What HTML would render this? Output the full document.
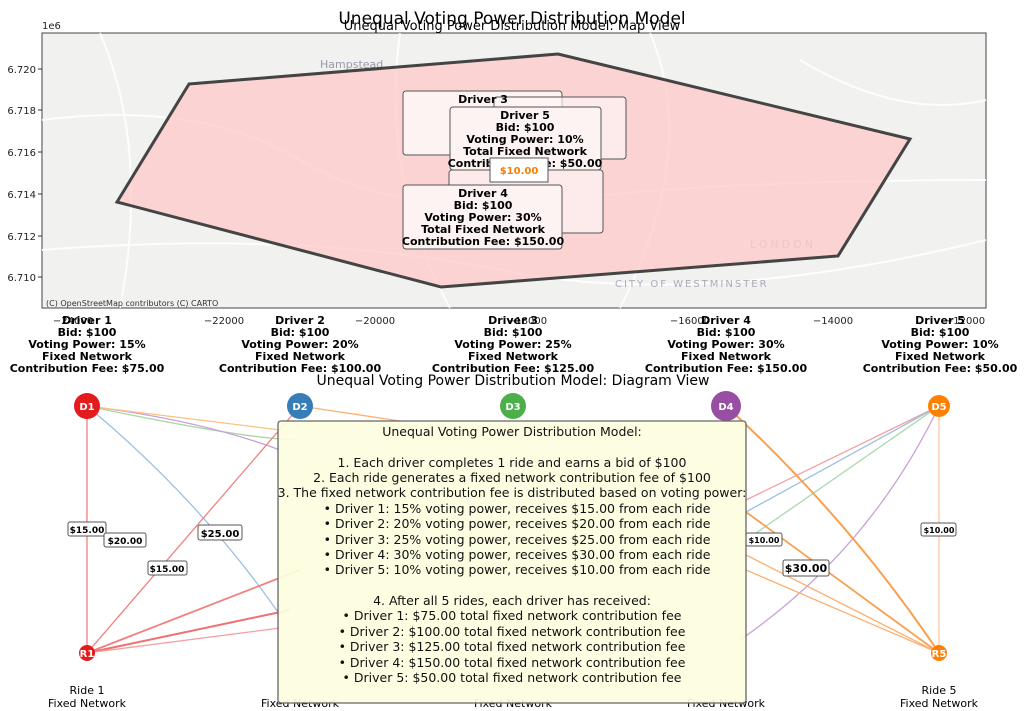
<!DOCTYPE html>
<html><head><meta charset="utf-8"><style>
body{margin:0;background:#fff;}
svg{display:block;font-family:"DejaVu Sans","Liberation Sans",sans-serif;}
.b{font-weight:bold;font-size:11px;text-anchor:middle;fill:#000}
.t{font-size:10.5px;fill:#222}
.n{font-size:11px;text-anchor:middle;fill:#000}
.lb{font-size:9px;font-weight:bold;text-anchor:middle}
</style></head><body>
<svg width="1024" height="711" viewBox="0 0 1024 711">
<rect x="42" y="33" width="944" height="275" fill="#f1f1ef" stroke="#444" stroke-width="1"/>
<g stroke="#fff" stroke-width="2" fill="none" opacity="0.9">
<path d="M42 120 Q200 100 300 160 T560 200 T986 180"/>
<path d="M100 33 Q150 150 120 308"/><path d="M400 33 Q380 180 450 308"/>
<path d="M650 33 Q700 150 620 308"/><path d="M800 60 Q900 120 986 100"/>
<path d="M42 250 Q300 230 500 270 T986 240"/>
</g>
<text x="320" y="68" font-size="11" fill="#99a">Hampstead</text>
<text x="750" y="248" font-size="11" fill="#aab" letter-spacing="3">LONDON</text>
<text x="615" y="287" font-size="10" fill="#aab" letter-spacing="2">CITY OF WESTMINSTER</text>
<polygon points="189,84 558,54 910,139 838,256 441,287 117,202" fill="#ffcccc" fill-opacity="0.8" stroke="#444" stroke-width="3"/>
<text x="46" y="306" font-size="8" fill="#333">(C) OpenStreetMap contributors (C) CARTO</text>
<g font-size="10" fill="#222" text-anchor="end">
<text x="36" y="73">6.720</text><text x="36" y="114">6.718</text><text x="36" y="156">6.716</text><text x="36" y="198">6.714</text><text x="36" y="240">6.712</text><text x="36" y="281">6.710</text>
</g>
<text x="42" y="29" font-size="10" fill="#222">1e6</text>
<g stroke="#333"><line x1="38" y1="69" x2="42" y2="69"/><line x1="38" y1="110" x2="42" y2="110"/><line x1="38" y1="152" x2="42" y2="152"/><line x1="38" y1="194" x2="42" y2="194"/><line x1="38" y1="236" x2="42" y2="236"/><line x1="38" y1="277" x2="42" y2="277"/></g>
<g font-size="10" fill="#222" text-anchor="middle">
<text x="73" y="324">−24000</text><text x="224" y="324">−22000</text><text x="375" y="324">−20000</text><text x="527" y="324">−18000</text><text x="690" y="324">−16000</text><text x="833" y="324">−14000</text><text x="965" y="324">−12000</text>
</g>
<text x="512" y="24" font-size="17" text-anchor="middle" fill="#000">Unequal Voting Power Distribution Model</text>
<text x="512" y="30" font-size="13" text-anchor="middle" fill="#000">Unequal Voting Power Distribution Model: Map View</text>
<g stroke="#555" fill="#fdf3f3">
<rect x="403" y="91" width="159" height="64" rx="3"/>
<rect x="494" y="97" width="132" height="62" rx="3" fill-opacity="0.7"/>
<rect x="449" y="170" width="154" height="63" rx="3" fill-opacity="0.7"/>
<rect x="450" y="107" width="151" height="63" rx="3"/>
<rect x="403" y="185" width="159" height="64" rx="3"/>
</g>
<text class="b" x="483" y="103">Driver 3</text>
<text class="b" x="525" y="119">Driver 5</text>
<text class="b" x="525" y="131">Bid: $100</text>
<text class="b" x="525" y="143">Voting Power: 10%</text>
<text class="b" x="525" y="155">Total Fixed Network</text>
<text class="b" x="525" y="167">Contribution Fee: $50.00</text>
<rect x="490" y="158" width="58" height="24" fill="#fff" stroke="#555"/>
<text x="519" y="174" font-size="10" font-weight="bold" fill="#f57f00" text-anchor="middle">$10.00</text>
<text class="b" x="483" y="197">Driver 4</text>
<text class="b" x="483" y="209">Bid: $100</text>
<text class="b" x="483" y="221">Voting Power: 30%</text>
<text class="b" x="483" y="233">Total Fixed Network</text>
<text class="b" x="483" y="245">Contribution Fee: $150.00</text>
<text class="b" x="87" y="324">Driver 1</text><text class="b" x="87" y="336">Bid: $100</text><text class="b" x="87" y="348">Voting Power: 15%</text><text class="b" x="87" y="360">Fixed Network</text><text class="b" x="87" y="372">Contribution Fee: $75.00</text>
<text class="b" x="300" y="324">Driver 2</text><text class="b" x="300" y="336">Bid: $100</text><text class="b" x="300" y="348">Voting Power: 20%</text><text class="b" x="300" y="360">Fixed Network</text><text class="b" x="300" y="372">Contribution Fee: $100.00</text>
<text class="b" x="513" y="324">Driver 3</text><text class="b" x="513" y="336">Bid: $100</text><text class="b" x="513" y="348">Voting Power: 25%</text><text class="b" x="513" y="360">Fixed Network</text><text class="b" x="513" y="372">Contribution Fee: $125.00</text>
<text class="b" x="726" y="324">Driver 4</text><text class="b" x="726" y="336">Bid: $100</text><text class="b" x="726" y="348">Voting Power: 30%</text><text class="b" x="726" y="360">Fixed Network</text><text class="b" x="726" y="372">Contribution Fee: $150.00</text>
<text class="b" x="940" y="324">Driver 5</text><text class="b" x="940" y="336">Bid: $100</text><text class="b" x="940" y="348">Voting Power: 10%</text><text class="b" x="940" y="360">Fixed Network</text><text class="b" x="940" y="372">Contribution Fee: $50.00</text>
<text x="513" y="385" font-size="14" text-anchor="middle">Unequal Voting Power Distribution Model: Diagram View</text>
<g fill="none" stroke-width="1.3">
<line x1="87" y1="406" x2="87" y2="653" stroke="#f08080"/>
<path d="M87 406 Q200 500 280 615" stroke="#9ec0e0"/>
<path d="M87 406 Q250 440 300 440" stroke="#a8d8a8"/>
<path d="M87 406 Q200 420 280 450" stroke="#c8a0d8"/>
<path d="M87 406 L280 430" stroke="#fdc080"/>
<path d="M87 653 L300 406" stroke="#f08080"/>
<path d="M87 653 L300 570" stroke="#f08080" stroke-width="1.8"/>
<path d="M87 653 L290 610" stroke="#f07070" stroke-width="2"/>
<path d="M87 653 L280 628" stroke="#f4a0a0"/>
<path d="M300 406 L400 421" stroke="#fdb070"/>
<path d="M939 406 L746 500" stroke="#f4a0a0"/>
<path d="M939 406 L746 512" stroke="#9ec0e0"/>
<path d="M939 406 L746 540" stroke="#a8d8a8"/>
<path d="M939 406 Q870 550 740 640" stroke="#c8a0d8"/>
<line x1="939" y1="406" x2="939" y2="653" stroke="#fdc8a0"/>
<path d="M726 406 Q850 520 939 653" stroke="#f8a050" stroke-width="2"/>
<path d="M746 512 L939 653" stroke="#f8a050" stroke-width="1.8"/>
<path d="M746 555 L939 653" stroke="#fdb070"/>
<path d="M746 570 L939 653" stroke="#fdb070"/>
</g>
<g stroke="#555" fill="#fff">
<rect x="68" y="522" width="38" height="14" rx="2"/><rect x="104" y="533" width="42" height="14" rx="2"/>
<rect x="198" y="525" width="44" height="15" rx="2"/><rect x="148" y="561" width="39" height="14" rx="2"/>
<rect x="746" y="533" width="36" height="13" rx="2"/><rect x="783" y="560" width="46" height="16" rx="2"/>
<rect x="921" y="523" width="35" height="13" rx="2"/>
</g>
<text class="lb" x="87" y="533">$15.00</text><text class="lb" x="125" y="544">$20.00</text>
<text class="lb" x="220" y="537" style="font-size:10px">$25.00</text><text class="lb" x="167" y="572">$15.00</text>
<text class="lb" x="764" y="543" style="font-size:8px">$10.00</text><text class="lb" x="806" y="572" style="font-size:11px">$30.00</text>
<text class="lb" x="939" y="533" style="font-size:8px">$10.00</text>
<g font-size="10" font-weight="bold" fill="#fff" text-anchor="middle">
<circle cx="87" cy="406" r="13" fill="#e41a1c"/><text x="87" y="410">D1</text>
<circle cx="300" cy="406" r="13" fill="#377eb8"/><text x="300" y="410">D2</text>
<circle cx="513" cy="406" r="13" fill="#4daf4a"/><text x="513" y="410">D3</text>
<circle cx="726" cy="406" r="15" fill="#984ea3"/><text x="726" y="410">D4</text>
<circle cx="939" cy="406" r="11" fill="#ff7f00"/><text x="939" y="410">D5</text>
<circle cx="87" cy="653" r="8" fill="#e41a1c"/><text x="87" y="657">R1</text>
<circle cx="939" cy="653" r="8" fill="#ff7f00"/><text x="939" y="657">R5</text>
</g>
<text class="n" x="87" y="694">Ride 1</text><text class="n" x="87" y="707">Fixed Network</text><text class="n" x="87" y="720">Contribution Fee: $100</text>
<text class="n" x="300" y="707">Fixed Network</text><text class="n" x="513" y="707">Fixed Network</text><text class="n" x="726" y="707">Fixed Network</text>
<text class="n" x="939" y="694">Ride 5</text><text class="n" x="939" y="707">Fixed Network</text><text class="n" x="939" y="720">Contribution Fee: $100</text>
<rect x="278" y="421" width="468" height="282" rx="3" fill="#fdfde0" fill-opacity="0.93" stroke="#666" stroke-width="1.3"/>
<g font-size="12.5" text-anchor="middle" fill="#111">
<text x="512" y="436">Unequal Voting Power Distribution Model:</text>
<text x="512" y="467">1. Each driver completes 1 ride and earns a bid of $100</text>
<text x="512" y="482">2. Each ride generates a fixed network contribution fee of $100</text>
<text x="512" y="497">3. The fixed network contribution fee is distributed based on voting power:</text>
<text x="517" y="513">• Driver 1: 15% voting power, receives $15.00 from each ride</text>
<text x="517" y="528">• Driver 2: 20% voting power, receives $20.00 from each ride</text>
<text x="517" y="544">• Driver 3: 25% voting power, receives $25.00 from each ride</text>
<text x="517" y="559">• Driver 4: 30% voting power, receives $30.00 from each ride</text>
<text x="517" y="574">• Driver 5: 10% voting power, receives $10.00 from each ride</text>
<text x="512" y="605">4. After all 5 rides, each driver has received:</text>
<text x="512" y="620">• Driver 1: $75.00 total fixed network contribution fee</text>
<text x="512" y="636">• Driver 2: $100.00 total fixed network contribution fee</text>
<text x="512" y="651">• Driver 3: $125.00 total fixed network contribution fee</text>
<text x="512" y="667">• Driver 4: $150.00 total fixed network contribution fee</text>
<text x="512" y="682">• Driver 5: $50.00 total fixed network contribution fee</text>
</g>
</svg>
</body></html>
